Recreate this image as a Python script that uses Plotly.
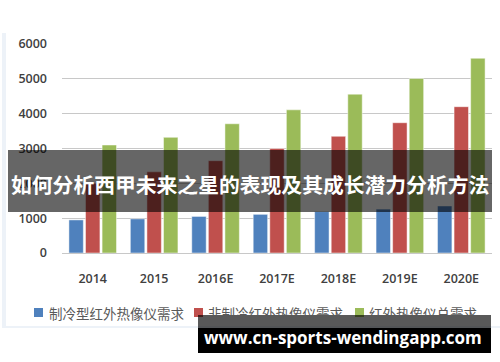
import plotly.graph_objects as go

categories = ["2014", "2015", "2016E", "2017E", "2018E", "2019E", "2020E"]
cooled = [950, 980, 1050, 1110, 1190, 1260, 1350]
uncooled = [2000, 2330, 2650, 3000, 3350, 3740, 4200]
total = [3100, 3320, 3710, 4110, 4560, 5010, 5590]
series_names = ["制冷型红外热像仪需求", "非制冷红外热像仪需求", "红外热像仪总需求"]
colors = ["#4F81BD", "#C0504D", "#9BBB59"]
y_ticks = [0, 1000, 2000, 3000, 4000, 5000, 6000]
banner_text = "如何分析西甲未来之星的表现及其成长潜力分析方法"
watermark_text = "www.cn-sports-wendingapp.com"

W, H = 500, 362
L, R, T, B = 62, 8, 44, 109
PW, PH = W - L - R, H - T - B

def px(x):
    return (x - L) / PW

def py(y):
    return (H - B - y) / PH

fig = go.Figure()
for name, vals, col in zip(series_names, [cooled, uncooled, total], colors):
    fig.add_trace(go.Bar(
        x=categories, y=vals, name=name,
        marker=dict(color=col, line=dict(color="rgba(255,255,255,0.6)", width=0.8)),
    ))

shapes = []
annotations = []

# frame (left strip + bottom line)
shapes.append(dict(type="rect", xref="paper", yref="paper", x0=px(2), x1=px(6), y0=py(327), y1=py(33),
                   fillcolor="#EDF2F8", line=dict(width=0), layer="below"))
shapes.append(dict(type="rect", xref="paper", yref="paper", x0=px(2), x1=px(500), y0=py(328), y1=py(326),
                   fillcolor="#EDF2F8", line=dict(width=0), layer="below"))

# manual legend
legend_pos = [(34, 47), (194, 206), (355, 367)]
for (sx, tx), name, col in zip(legend_pos, series_names, colors):
    shapes.append(dict(type="rect", xref="paper", yref="paper", x0=px(sx), x1=px(sx + 9),
                       y0=py(317), y1=py(308), fillcolor=col, line=dict(width=0)))
    annotations.append(dict(xref="paper", yref="paper", x=px(tx), y=py(312.5), text=name,
                            showarrow=False, xanchor="left", yanchor="middle",
                            font=dict(family="Noto Sans CJK SC", size=13.5, color="#595959")))

# banner
shapes.append(dict(type="rect", xref="paper", yref="paper", x0=px(8), x1=px(492), y0=py(212), y1=py(150),
                   fillcolor="rgba(0,0,0,0.6)", line=dict(width=0), layer="above"))
annotations.append(dict(xref="paper", yref="paper", x=px(250), y=py(184), text=banner_text,
                        showarrow=False, xanchor="center", yanchor="middle",
                        font=dict(family="Noto Sans CJK SC", size=20.8, color="white", weight="bold")))

# watermark
shapes.append(dict(type="rect", xref="paper", yref="paper", x0=px(198), x1=px(491), y0=py(328), y1=py(315),
                   fillcolor="rgba(0,0,0,0.65)", line=dict(width=0), layer="above"))
shapes.append(dict(type="rect", xref="paper", yref="paper", x0=px(198), x1=px(491), y0=py(353), y1=py(328),
                   fillcolor="#000000", line=dict(width=0), layer="above"))
annotations.append(dict(xref="paper", yref="paper", x=px(343), y=py(337), text=watermark_text,
                        showarrow=False, xanchor="center", yanchor="middle",
                        font=dict(family="Open Sans", size=17, color="white", weight="bold")))

fig.update_layout(
    width=W, height=H,
    margin=dict(l=L, r=R, t=T, b=B),
    paper_bgcolor="white", plot_bgcolor="white",
    barmode="group", bargap=0.19, bargroupgap=0.13,
    showlegend=False,
    shapes=shapes, annotations=annotations,
    xaxis=dict(showgrid=False, showline=False, ticks="", ticklabelstandoff=16,
               tickfont=dict(family="Open Sans", size=12.5, color="#404040", weight=600)),
    yaxis=dict(range=[0, 6000], tickvals=y_ticks, showgrid=True, gridcolor="#C8C8C8", gridwidth=1,
               zeroline=True, zerolinecolor="#C8C8C8", zerolinewidth=1, showline=False, ticks="",
               ticklabelstandoff=14,
               tickfont=dict(family="Open Sans", size=12.5, color="#404040", weight=600)),
)

fig.write_html("out.html", config={"displayModeBar": False},
               post_script="document.body.style.margin='0';document.body.style.overflow='hidden';")
